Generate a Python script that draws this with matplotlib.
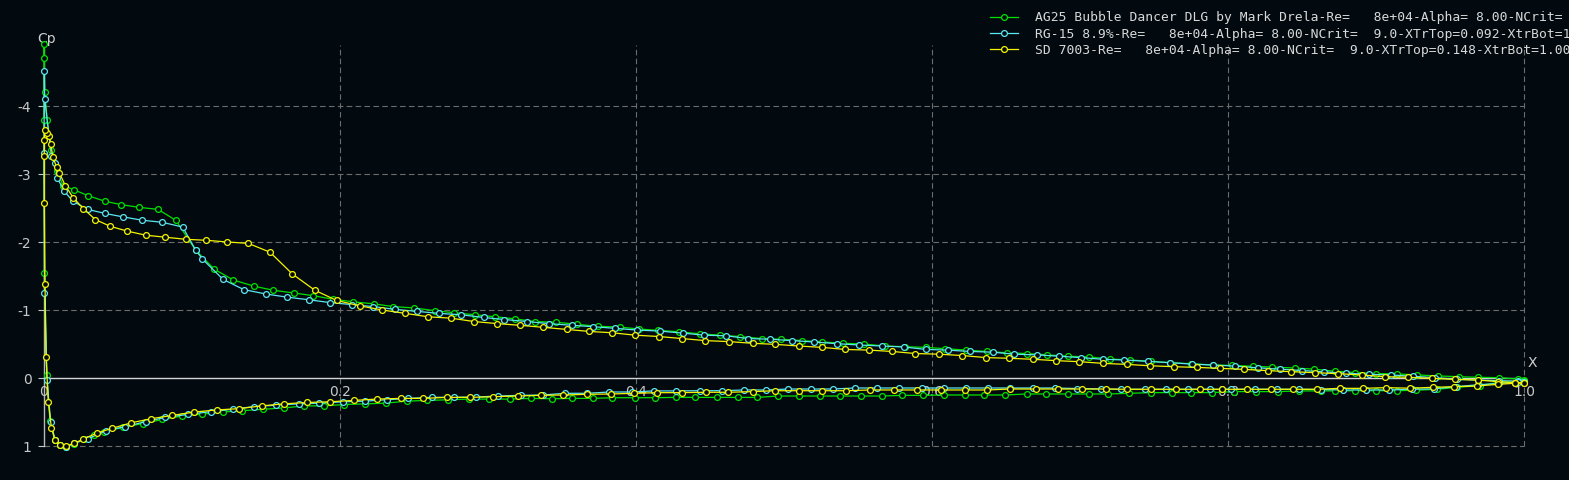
import numpy as np
import matplotlib
matplotlib.use("Agg")
import matplotlib.pyplot as plt

plt.rcParams['axes.unicode_minus'] = False

BG = '#020a10'

# ---------------- data (x/c, Cp) ----------------
# AG25 Bubble Dancer DLG
ag_up_x = [0.0001, 0.0002, 0.0005, 0.0022, 0.0050, 0.0085, 0.0130, 0.0200, 0.0300, 0.0410, 0.0520,
           0.0640, 0.0770, 0.0890, 0.1025, 0.1150, 0.1280, 0.1420, 0.1550, 0.1690, 0.1820, 0.1950,
           0.2090, 0.2230, 0.2360, 0.2500, 0.2640, 0.2770, 0.2910, 0.3050, 0.3180, 0.3320, 0.3460,
           0.3600, 0.3740, 0.3890, 0.4020, 0.4150, 0.4290, 0.4430, 0.4570, 0.4700, 0.4850, 0.4980,
           0.5120, 0.5260, 0.5400, 0.5540, 0.5680, 0.5820, 0.5960, 0.6090, 0.6230, 0.6370, 0.6510,
           0.6640, 0.6780, 0.6920, 0.7060, 0.7200, 0.7340, 0.7480, 0.7610, 0.7750, 0.7900, 0.8030,
           0.8170, 0.8300, 0.8450, 0.8580, 0.8720, 0.8860, 0.9000, 0.9140, 0.9280, 0.9420, 0.9560,
           0.9690, 0.9830, 0.9960, 1.0000]
ag_up_cp = [-4.91, -4.70, -4.21, -3.79, -3.35, -3.05, -2.83, -2.77, -2.68, -2.60, -2.55,
            -2.51, -2.48, -2.32, -1.88, -1.60, -1.44, -1.35, -1.29, -1.25, -1.21, -1.16,
            -1.12, -1.09, -1.05, -1.03, -0.99, -0.96, -0.93, -0.90, -0.87, -0.83, -0.82,
            -0.79, -0.76, -0.75, -0.72, -0.70, -0.68, -0.65, -0.63, -0.61, -0.58, -0.57,
            -0.55, -0.53, -0.51, -0.50, -0.47, -0.46, -0.45, -0.43, -0.41, -0.39, -0.37,
            -0.36, -0.34, -0.32, -0.31, -0.28, -0.265, -0.245, -0.225, -0.21, -0.19, -0.185,
            -0.17, -0.16, -0.147, -0.13, -0.10, -0.08, -0.065, -0.06, -0.045, -0.03, -0.02,
            -0.01, -0.005, 0.015, 0.025]
ag_lo_x = [0.0000, 0.0003, 0.0020, 0.0040, 0.0074, 0.0110, 0.0150, 0.0200, 0.0270, 0.0340, 0.0405,
           0.0536, 0.0667, 0.0800, 0.0930, 0.1070, 0.1210, 0.1340, 0.1480, 0.1620, 0.1760, 0.1890,
           0.2030, 0.2170, 0.2310, 0.2450, 0.2590, 0.2730, 0.2870, 0.3010, 0.3150, 0.3290, 0.3430,
           0.3570, 0.3710, 0.3840, 0.3990, 0.4130, 0.4270, 0.4400, 0.4550, 0.4690, 0.4820, 0.4960,
           0.5100, 0.5240, 0.5380, 0.5520, 0.5660, 0.5800, 0.5940, 0.6080, 0.6220, 0.6350, 0.6490,
           0.6640, 0.6770, 0.6920, 0.7060, 0.7190, 0.7330, 0.7480, 0.7620, 0.7750, 0.7890, 0.8040,
           0.8190, 0.8340, 0.8480, 0.8630, 0.8720, 0.8860, 0.9000, 0.9140, 0.9270, 0.9410, 0.9550,
           0.9700, 0.9830, 0.9960, 1.0000]
ag_lo_cp = [-3.79, -1.55, -0.04, 0.63, 0.91, 0.99, 1.01, 0.97, 0.90, 0.84, 0.79,
            0.725, 0.67, 0.61, 0.56, 0.53, 0.50, 0.48, 0.46, 0.44, 0.41, 0.41,
            0.39, 0.38, 0.37, 0.34, 0.33, 0.32, 0.31, 0.31, 0.31, 0.30, 0.305,
            0.30, 0.30, 0.29, 0.29, 0.29, 0.285, 0.285, 0.285, 0.285, 0.285, 0.265,
            0.265, 0.265, 0.265, 0.265, 0.265, 0.255, 0.255, 0.25, 0.25, 0.25, 0.25,
            0.235, 0.235, 0.235, 0.235, 0.235, 0.225, 0.215, 0.215, 0.215, 0.215, 0.20,
            0.20, 0.20, 0.19, 0.19, 0.19, 0.187, 0.187, 0.187, 0.18, 0.166, 0.137,
            0.113, 0.063, 0.054, 0.04]

# RG-15 8.9%
rg_up_x = [0.0002, 0.0005, 0.0050, 0.0074, 0.0090, 0.0137, 0.0194, 0.0295, 0.0412, 0.0532, 0.0664,
           0.0799, 0.0937, 0.1025, 0.1070, 0.1210, 0.1350, 0.1500, 0.1640, 0.1790, 0.1930, 0.2080,
           0.2225, 0.2370, 0.2520, 0.2670, 0.2820, 0.2970, 0.3110, 0.3266, 0.3410, 0.3566, 0.3710,
           0.3860, 0.4010, 0.4160, 0.4316, 0.4460, 0.4610, 0.4760, 0.4905, 0.5056, 0.5200, 0.5356,
           0.5510, 0.5660, 0.5810, 0.5960, 0.6106, 0.6260, 0.6410, 0.6556, 0.6710, 0.6856, 0.7005,
           0.7157, 0.7300, 0.7457, 0.7610, 0.7755, 0.7900, 0.8050, 0.8200, 0.8350, 0.8500, 0.8650,
           0.8800, 0.8950, 0.9100, 0.9250, 0.9400, 0.9545, 0.9690, 0.9830, 0.9960, 1.0000]
rg_up_cp = [-4.52, -4.10, -3.26, -3.16, -2.94, -2.75, -2.60, -2.48, -2.42, -2.37, -2.32,
            -2.29, -2.22, -1.88, -1.75, -1.45, -1.30, -1.235, -1.19, -1.15, -1.11, -1.08,
            -1.05, -1.01, -0.98, -0.95, -0.93, -0.89, -0.86, -0.83, -0.80, -0.775, -0.755,
            -0.73, -0.705, -0.69, -0.66, -0.63, -0.62, -0.58, -0.57, -0.55, -0.53, -0.505,
            -0.485, -0.47, -0.456, -0.42, -0.41, -0.39, -0.38, -0.35, -0.34, -0.32, -0.30,
            -0.275, -0.265, -0.245, -0.225, -0.205, -0.19, -0.175, -0.15, -0.13, -0.11, -0.09,
            -0.07, -0.055, -0.045, -0.025, -0.005, 0.02, 0.03, 0.04, 0.045, 0.054]
rg_lo_x = [0.0000, 0.0003, 0.0020, 0.0045, 0.0074, 0.0110, 0.0150, 0.0205, 0.0300, 0.0420, 0.0550,
           0.0690, 0.0820, 0.0975, 0.1126, 0.1275, 0.1420, 0.1570, 0.1720, 0.1860, 0.2020, 0.2170,
           0.2315, 0.2460, 0.2620, 0.2770, 0.2920, 0.3070, 0.3220, 0.3370, 0.3520, 0.3670, 0.3820,
           0.3970, 0.4120, 0.4270, 0.4430, 0.4580, 0.4730, 0.4880, 0.5030, 0.5180, 0.5330, 0.5480,
           0.5630, 0.5780, 0.5930, 0.6080, 0.6230, 0.6380, 0.6530, 0.6680, 0.6830, 0.6980, 0.7140,
           0.7280, 0.7440, 0.7580, 0.7730, 0.7880, 0.8020, 0.8180, 0.8330, 0.8480, 0.8630, 0.8780,
           0.8930, 0.9090, 0.9240, 0.9390, 0.9540, 0.9690, 0.9830, 0.9960, 1.0000]
rg_lo_cp = [-3.31, -1.25, 0.03, 0.64, 0.91, 0.99, 1.01, 0.96, 0.89, 0.775, 0.715,
            0.64, 0.58, 0.535, 0.495, 0.46, 0.42, 0.40, 0.38, 0.37, 0.35, 0.34,
            0.32, 0.30, 0.284, 0.284, 0.28, 0.265, 0.255, 0.25, 0.225, 0.225, 0.206,
            0.206, 0.19, 0.19, 0.187, 0.187, 0.176, 0.176, 0.162, 0.162, 0.162, 0.147,
            0.147, 0.147, 0.147, 0.147, 0.147, 0.147, 0.147, 0.147, 0.147, 0.155, 0.16,
            0.166, 0.166, 0.166, 0.166, 0.166, 0.166, 0.166, 0.166, 0.166, 0.17, 0.176,
            0.176, 0.176, 0.166, 0.16, 0.127, 0.10, 0.08, 0.064, 0.054]

# SD 7003
sd_up_x = [0.0007, 0.0022, 0.0034, 0.0047, 0.0059, 0.0086, 0.0103, 0.0144, 0.0198, 0.0266, 0.0347,
           0.0448, 0.0563, 0.0687, 0.0820, 0.0957, 0.1097, 0.1239, 0.1380, 0.1527, 0.1678, 0.1830,
           0.1978, 0.2135, 0.2286, 0.2440, 0.2597, 0.2750, 0.2907, 0.3063, 0.3216, 0.3374, 0.3532,
           0.3684, 0.3840, 0.3993, 0.4155, 0.4313, 0.4468, 0.4630, 0.4788, 0.4940, 0.5103, 0.5259,
           0.5414, 0.5576, 0.5732, 0.5887, 0.6050, 0.6205, 0.6367, 0.6522, 0.6684, 0.6840, 0.6995,
           0.7157, 0.7316, 0.7473, 0.7635, 0.7790, 0.7946, 0.8108, 0.8272, 0.8426, 0.8588, 0.8745,
           0.8903, 0.9060, 0.9218, 0.9376, 0.9534, 0.9687, 0.9826, 0.9940, 1.0000]
sd_up_cp = [-3.65, -3.61, -3.56, -3.44, -3.25, -3.10, -3.02, -2.83, -2.65, -2.49, -2.33,
            -2.23, -2.16, -2.10, -2.07, -2.04, -2.025, -2.00, -1.98, -1.85, -1.53, -1.29,
            -1.14, -1.06, -1.00, -0.95, -0.90, -0.88, -0.83, -0.80, -0.775, -0.745, -0.715,
            -0.685, -0.665, -0.63, -0.61, -0.58, -0.55, -0.535, -0.51, -0.495, -0.47, -0.45,
            -0.42, -0.41, -0.39, -0.36, -0.35, -0.33, -0.30, -0.29, -0.275, -0.255, -0.24,
            -0.215, -0.20, -0.18, -0.166, -0.156, -0.142, -0.127, -0.108, -0.093, -0.078, -0.064,
            -0.044, -0.02, -0.01, 0.005, 0.02, 0.03, 0.054, 0.069, 0.069]
sd_lo_x = [0.0002, 0.0002, 0.0002, 0.0007, 0.0014, 0.0029, 0.0050, 0.0074, 0.0110, 0.0146, 0.0203,
           0.0266, 0.0356, 0.0460, 0.0588, 0.0720, 0.0867, 0.1016, 0.1167, 0.1320, 0.1470, 0.1620,
           0.1780, 0.1930, 0.2095, 0.2250, 0.2410, 0.2560, 0.2720, 0.2880, 0.3036, 0.3200, 0.3356,
           0.3510, 0.3670, 0.3830, 0.3986, 0.4140, 0.4310, 0.4470, 0.4620, 0.4790, 0.4940, 0.5100,
           0.5260, 0.5420, 0.5580, 0.5740, 0.5900, 0.6060, 0.6220, 0.6370, 0.6530, 0.6700, 0.6850,
           0.7016, 0.7174, 0.7316, 0.7480, 0.7650, 0.7810, 0.7960, 0.8126, 0.8290, 0.8440, 0.8600,
           0.8757, 0.8910, 0.9070, 0.9230, 0.9387, 0.9530, 0.9680, 0.9826, 0.9940, 1.0000]
sd_lo_cp = [-3.50, -3.26, -2.58, -1.38, -0.31, 0.35, 0.73, 0.91, 0.985, 1.00, 0.96,
            0.90, 0.81, 0.74, 0.66, 0.60, 0.55, 0.50, 0.47, 0.45, 0.41, 0.38,
            0.36, 0.35, 0.33, 0.31, 0.30, 0.30, 0.285, 0.285, 0.275, 0.265, 0.255,
            0.25, 0.24, 0.235, 0.225, 0.216, 0.215, 0.21, 0.21, 0.20, 0.187, 0.187,
            0.187, 0.187, 0.176, 0.176, 0.176, 0.176, 0.176, 0.176, 0.162, 0.162, 0.162,
            0.162, 0.162, 0.166, 0.166, 0.166, 0.166, 0.166, 0.166, 0.166, 0.166, 0.166,
            0.152, 0.152, 0.142, 0.15, 0.137, 0.127, 0.118, 0.093, 0.078, 0.069]

labels = [
    "AG25 Bubble Dancer DLG by Mark Drela-Re=   8e+04-Alpha= 8.00-NCrit=  9.0",
    "RG-15 8.9%-Re=   8e+04-Alpha= 8.00-NCrit=  9.0-XTrTop=0.092-XtrBot=1.000",
    "SD 7003-Re=   8e+04-Alpha= 8.00-NCrit=  9.0-XTrTop=0.148-XtrBot=1.000",
]
colors = ['#00e000', '#5ce6f0', '#f4f400']

y_ticks = [-4, -3, -2, -1, 0, 1]
y_ticklabels = ['-4', '-3', '-2', '-1', '0', '1']
x_ticks = [0.0, 0.2, 0.4, 0.6, 0.8, 1.0]
x_ticklabels = ['0', '0.2', '0.4', '0.6', '0.8', '1.0']

# ---------------- figure ----------------
W, H = 1569, 480
fig = plt.figure(figsize=(W / 100, H / 100), dpi=100, facecolor=BG)
ax = fig.add_axes([44 / W, 34 / H, 1480 / W, 401.2 / H])
ax.set_facecolor(BG)
ax.set_xlim(0, 1.0)
ax.set_ylim(1.0, -4.9)
for s in ax.spines.values():
    s.set_visible(False)

grid_c = '#6c6c6c'
for xv in x_ticks[1:]:
    ax.axvline(xv, color=grid_c, lw=0.8, ls=(0, (5, 3)), zorder=1, clip_on=False)
for yv in [-4, -3, -2, -1, 1]:
    ax.axhline(yv, color=grid_c, lw=0.8, ls=(0, (5, 3)), zorder=1, clip_on=False)
ax.axvline(0, color='#b8b8b8', lw=1.0, zorder=1.5, clip_on=False)
ax.axhline(0, color='#d4d4d4', lw=1.0, zorder=1.5, clip_on=False)

ax.set_xticks([])
ax.set_yticks(y_ticks)
ax.set_yticklabels(y_ticklabels)
ax.tick_params(axis='y', colors='#c8c8c8', length=4, width=0.8, pad=5, labelsize=10)

for xv, lab in zip(x_ticks, x_ticklabels):
    ax.text(xv, 0.21, lab, color='#c8c8c8', fontsize=10, ha='center', va='center', zorder=1.6)

ax.text(0.0014, -4.99, 'Cp', color='#d0d0d0', fontsize=10, ha='center', va='center', clip_on=False)
ax.text(1.0054, -0.22, 'X', color='#d0d0d0', fontsize=10, ha='center', va='center', clip_on=False)

series = [(ag_up_x, ag_up_cp, ag_lo_x, ag_lo_cp),
          (rg_up_x, rg_up_cp, rg_lo_x, rg_lo_cp),
          (sd_up_x, sd_up_cp, sd_lo_x, sd_lo_cp)]
for (ux, ucp, lx, lcp), col, lab in zip(series, colors, labels):
    xs = np.concatenate([np.array(ux)[::-1], np.array(lx)])
    cps = np.concatenate([np.array(ucp)[::-1], np.array(lcp)])
    ax.plot(xs, cps, color=col, lw=0.9, marker='o', ms=4.2, mfc=BG, mec=col, mew=0.9,
            label=lab, zorder=3, clip_on=False)

leg = ax.legend(loc='upper left', bbox_to_anchor=(990 / W, 1 - 11.5 / H), bbox_transform=fig.transFigure,
                frameon=False, prop={'family': 'DejaVu Sans Mono', 'size': 9.38},
                labelcolor='#d8d8d8', handlelength=2.15, handletextpad=1.28, labelspacing=0.24,
                borderpad=0, borderaxespad=0)

fig.savefig('out.png', dpi=100, facecolor=BG)
